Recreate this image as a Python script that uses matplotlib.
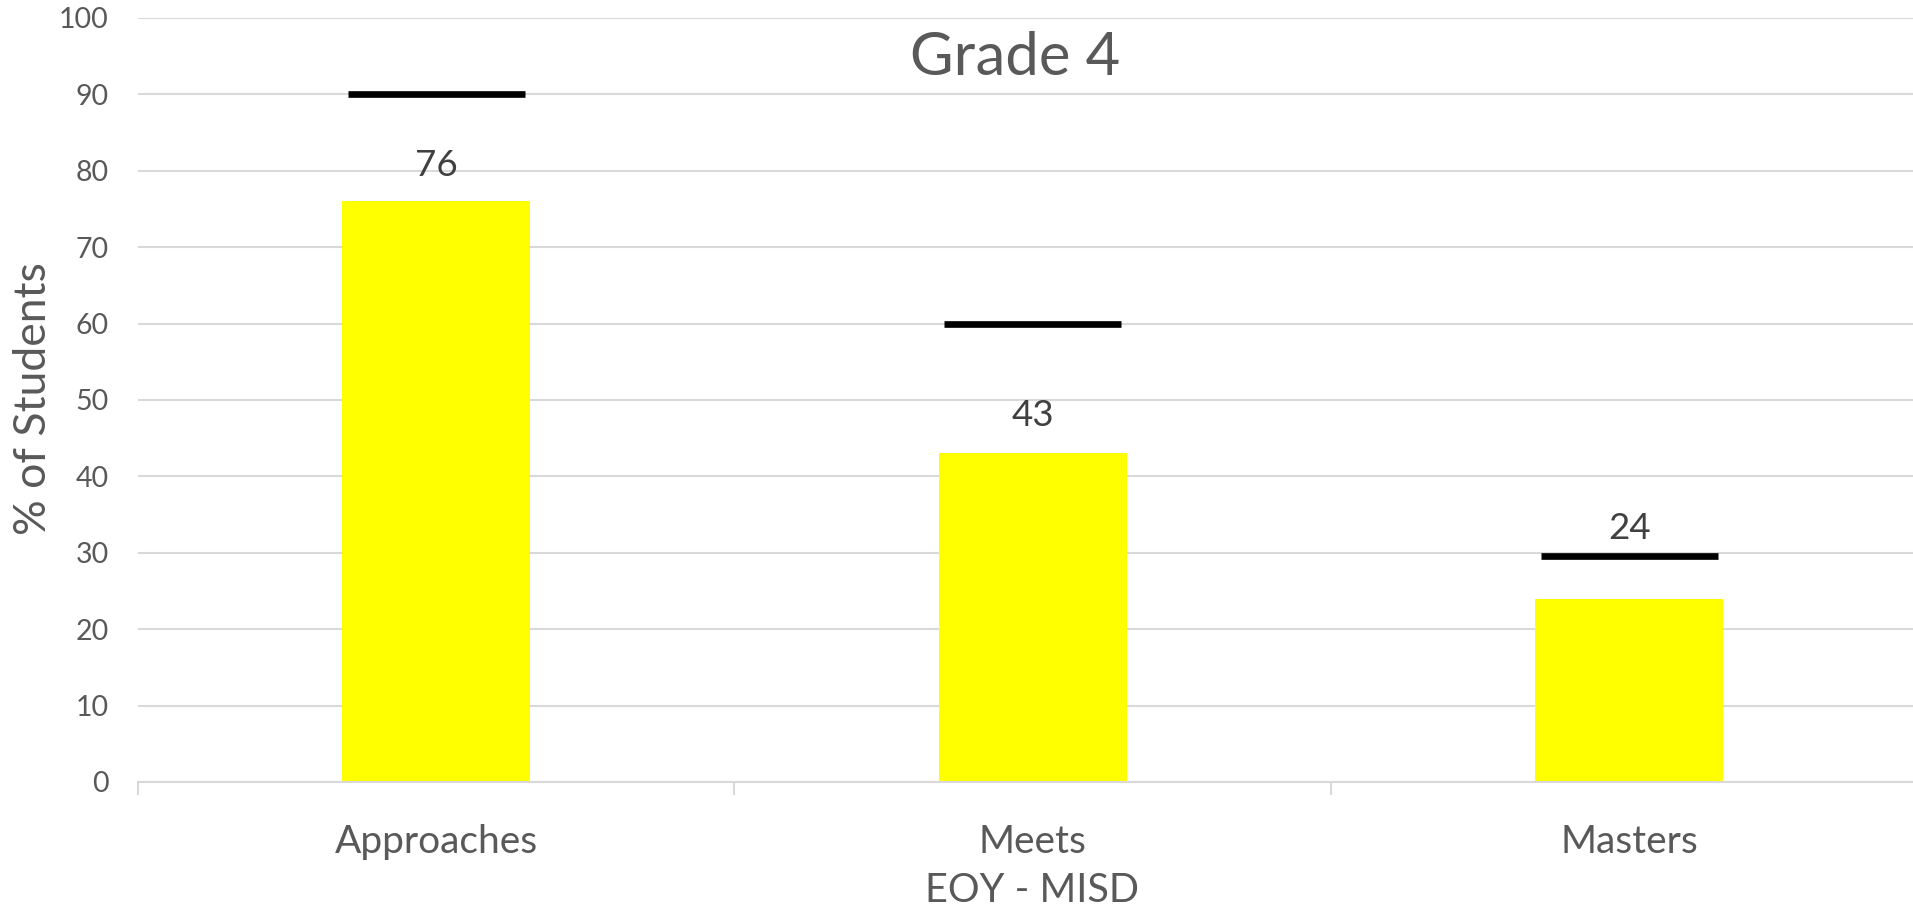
import matplotlib
matplotlib.use("Agg")
import matplotlib.pyplot as plt
import numpy as np

categories = ["Approaches", "Meets", "Masters"]
values = [76, 43, 24]
targets = [90, 60, 29.6]
title = "Grade 4"
ylabel = "% of Students"
xlabel = "EOY - MISD"
yticks = [0, 10, 20, 30, 40, 50, 60, 70, 80, 90, 100]

plt.rcParams['font.family'] = ['Lato', 'DejaVu Sans']
TXT = "#595959"
LBL = "#404040"
GRID = "#d9d9d9"

W, H = 1913, 911
fig = plt.figure(figsize=(W / 100, H / 100), dpi=100)
left, right, bottom, top = 138, 1927.5, 911 - 782, 911 - 18
ax = fig.add_axes([left / W, bottom / H, (right - left) / W, (top - bottom) / H])

x = np.arange(len(categories))
ax.bar(x, values, width=0.315, color="#FFFF00", zorder=2)
ax.hlines(targets, x - 0.148, x + 0.148, color="black", linewidth=4.8, zorder=3)

label_offsets = [36, 38, 70]
for xi, v, off in zip(x, values, label_offsets):
    ax.annotate(str(v), (xi, v), xytext=(0, off * 0.72), textcoords="offset points",
                ha="center", va="center", fontsize=26.5, color=LBL)

ax.set_xlim(-0.5, len(categories) - 0.5)
ax.set_ylim(0, 100)
ax.set_yticks(yticks)
ax.yaxis.grid(True, color=GRID, linewidth=1.5, zorder=0)
ax.set_axisbelow(True)
for s in ["top", "right", "left"]:
    ax.spines[s].set_visible(False)
ax.spines["bottom"].set_color(GRID)
ax.spines["bottom"].set_linewidth(1.5)

ax.tick_params(axis="y", length=0, pad=21, labelsize=20.5, labelcolor=TXT)
ax.set_xticks(x)
ax.set_xticklabels(categories)
ax.tick_params(axis="x", which="major", length=0, pad=30, labelsize=28, labelcolor=TXT)
ax.set_xticks(np.arange(-0.5, len(categories), 1.0), minor=True)
ax.tick_params(axis="x", which="minor", length=9, width=1.5, color=GRID)

fig.text(1015 / W, 1 - 58 / H, title, ha="center", va="center", fontsize=43, color=TXT)
fig.text(34 / W, 1 - 399 / H, ylabel, ha="center", va="center", rotation=90, fontsize=32, color=TXT)
fig.text(1032 / W, 1 - 891 / H, xlabel, ha="center", va="center", fontsize=28.5, color=TXT)

fig.savefig("out.png", dpi=100)
